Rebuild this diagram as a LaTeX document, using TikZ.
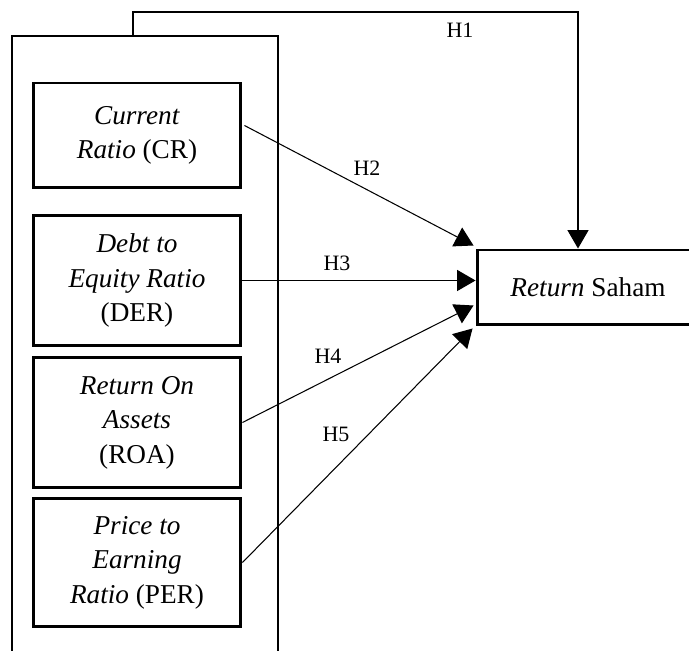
\documentclass[tikz,border=0pt]{standalone}
\usepackage{fontspec}
\setmainfont{Liberation Serif}
\usetikzlibrary{arrows.meta,calc}

\begin{document}
\begin{tikzpicture}[x=0.02cm,y=-0.02cm,
  var/.style={draw, line width=1.7pt, minimum width=4.16cm, align=center,
    font=\fontsize{15.5}{19.6}\selectfont},
  hyp/.style={-{Triangle[length=10.5pt,width=12pt]}, line width=0.6pt},
  hlabel/.style={font=\fontsize{12.5}{14}\selectfont}]
\useasboundingbox (0,0) rectangle (689,651);
\clip (0,0) rectangle (689,651);
% outer frame of the independent variables
\draw[line width=1.7pt] (12,700) -- (12,36) -- (278,36) -- (278,700);
\coordinate (frametop) at (133,36);
% independent variables
\node[var, minimum height=2.1cm]  (cr)  at (137,135.5) {\textit{Current}\\\textit{Ratio} (CR)};
\node[var, minimum height=2.62cm] (der) at (137,280.5) {\textit{Debt to}\\\textit{Equity Ratio}\\(DER)};
\node[var, minimum height=2.62cm] (roa) at (137,422.5) {\textit{Return On}\\\textit{Assets}\\(ROA)};
\node[var, minimum height=2.58cm] (per) at (137,562.5) {\textit{Price to}\\\textit{Earning}\\\textit{Ratio} (PER)};
% dependent variable
\node[var, minimum width=4.44cm, minimum height=1.5cm] (ret) at (588,287.5) {\textit{Return} Saham};
\coordinate (t2) at ($(ret.north west)+(-2,-3)$);
\coordinate (t3) at (der.east -| ret.west);
\coordinate (t4) at ($(ret.west)+(-2,18)$);
\coordinate (t5) at ($(ret.south west)+(-3,2)$);
\coordinate (t1) at (578,12);
% hypotheses
\draw[hyp] (frametop) |- (t1) -- (t1 |- ret.north);
\draw[hyp] ($(cr.east)+(2,-10)$) -- (t2);
\draw[hyp] (der.east) -- (t3);
\draw[hyp] (roa.east) -- (t4);
\draw[hyp] (per.east) -- (t5);
\node[hlabel] (h1) at (460,30)  {H1};
\node[hlabel] (h2) at (367,168) {H2};
\node[hlabel] (h3) at (337,263) {H3};
\node[hlabel] (h4) at (328,356) {H4};
\node[hlabel] (h5) at (336,434) {H5};
\end{tikzpicture}
\end{document}
